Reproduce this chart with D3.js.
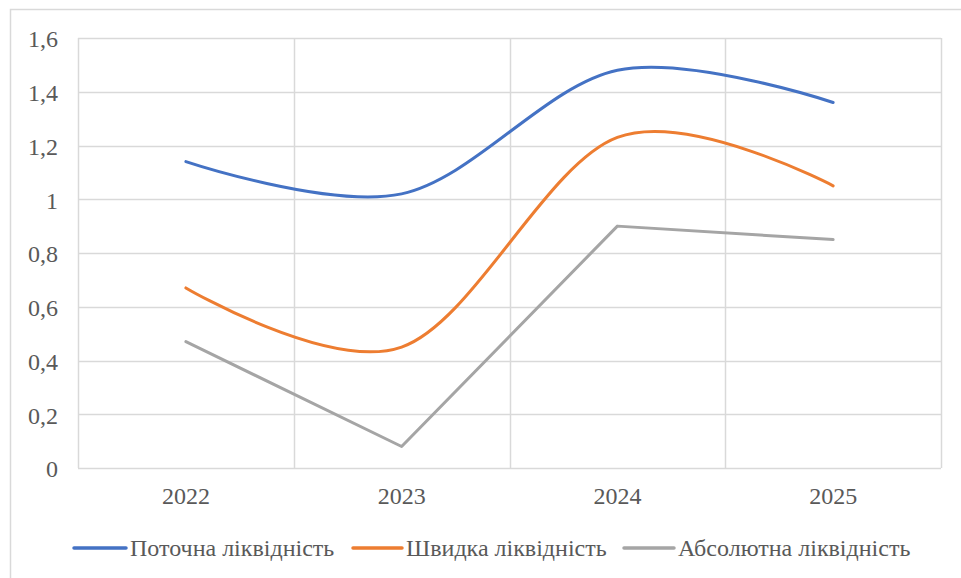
<!DOCTYPE html>
<html>
<head>
<meta charset="utf-8">
<script src="https://cdn.jsdelivr.net/npm/d3@7"></script>
<style>
  html, body { margin: 0; padding: 0; background: #fff; font-family: "Times New Roman", "Liberation Serif", serif; }
  svg { display: block; }
  svg text { font-family: "Times New Roman", "Liberation Serif", serif !important; fill: #595959; }
</style>
</head>
<body>
<svg id="chart" width="961" height="578"></svg>
<script>
var years = ['2022', '2023', '2024', '2025'];
var yTicks = [0, 0.2, 0.4, 0.6, 0.8, 1, 1.2, 1.4, 1.6];
var currentLiq = [1.14, 1.02, 1.48, 1.36];
var quickLiq = [0.67, 0.45, 1.23, 1.05];
var absoluteLiq = [0.47, 0.08, 0.90, 0.85];

var series = [
    { name: 'Поточна ліквідність', values: currentLiq, color: '#4472c4', smooth: true },
    { name: 'Швидка ліквідність', values: quickLiq, color: '#ed7d31', smooth: true },
    { name: 'Абсолютна ліквідність', values: absoluteLiq, color: '#a5a5a5', smooth: false }
];

var svg = d3.select('#chart');
var plotLeft = 78, plotRight = 941, plotTop = 38, plotBottom = 468;
var fontSize = 24;

// chart border
svg.append('rect')
    .attr('x', 10.5).attr('y', 9.5)
    .attr('width', 960).attr('height', 600)
    .attr('fill', 'none')
    .attr('stroke', '#d9d9d9')
    .attr('stroke-width', 1.5);

var x = d3.scaleBand().domain(years).range([plotLeft, plotRight]);
var y = d3.scaleLinear().domain([0, 1.6]).range([plotBottom, plotTop]);

// horizontal gridlines
svg.append('g').selectAll('line')
    .data(yTicks)
    .join('line')
    .attr('x1', plotLeft).attr('x2', plotRight)
    .attr('y1', d => Math.round(y(d)) + 0.5)
    .attr('y2', d => Math.round(y(d)) + 0.5)
    .attr('stroke', '#d9d9d9')
    .attr('stroke-width', 1.5);

// vertical gridlines at category boundaries
var bounds = years.map(d => x(d)).concat([plotRight]);
svg.append('g').selectAll('line')
    .data(bounds)
    .join('line')
    .attr('x1', d => Math.round(d) + 0.5).attr('x2', d => Math.round(d) + 0.5)
    .attr('y1', plotTop).attr('y2', plotBottom)
    .attr('stroke', '#d9d9d9')
    .attr('stroke-width', 1.5);

// y tick labels
svg.append('g').selectAll('text')
    .data(yTicks)
    .join('text')
    .attr('x', 58)
    .attr('y', d => y(d) + 1)
    .attr('dy', '0.35em')
    .attr('text-anchor', 'end')
    .attr('font-size', fontSize)
    .text(d => String(+d.toFixed(1)).replace('.', ','));

// x tick labels
svg.append('g').selectAll('text')
    .data(years)
    .join('text')
    .attr('x', d => x(d) + x.bandwidth() / 2)
    .attr('y', 496)
    .attr('dy', '0.35em')
    .attr('text-anchor', 'middle')
    .attr('font-size', fontSize)
    .text(d => d);

// lines
series.forEach(function(s) {
    var line = d3.line()
        .x((d, i) => x(years[i]) + x.bandwidth() / 2)
        .y(d => y(d))
        .curve(s.smooth ? d3.curveCatmullRom.alpha(0) : d3.curveLinear);
    svg.append('path')
        .datum(s.values)
        .attr('d', line)
        .attr('fill', 'none')
        .attr('stroke', s.color)
        .attr('stroke-width', 3)
        .attr('stroke-linecap', 'round')
        .attr('stroke-linejoin', 'round');
});

// legend
var legendLine = [[74, 126], [353, 402], [624, 674]];
var legend = svg.append('g');
series.forEach(function(s, i) {
    var lx = legendLine[i];
    legend.append('line')
        .attr('x1', lx[0]).attr('x2', lx[1])
        .attr('y1', 548).attr('y2', 548)
        .attr('stroke', s.color)
        .attr('stroke-width', 3.5)
        .attr('stroke-linecap', 'round');
    legend.append('text')
        .attr('x', lx[1] + 4)
        .attr('y', 548)
        .attr('dy', '0.33em')
        .attr('font-size', fontSize)
        .text(s.name);
});
</script>
</body>
</html>
